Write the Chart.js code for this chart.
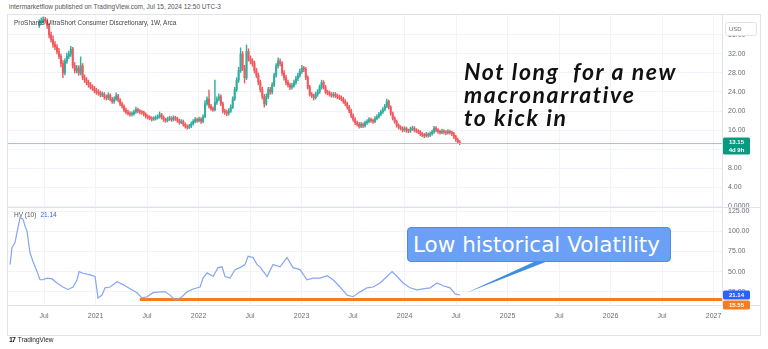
<!DOCTYPE html>
<html lang="en">
<head>
  <meta charset="UTF-8" />
  <title>SZK weekly with HV(10)</title>
  <script src="https://cdn.jsdelivr.net/npm/chart.js"></script>
  <style>
    body {
      margin: 0;
      width: 768px;
      height: 349px;
      overflow: hidden;
      position: relative;
      background: #fff;
      font-family: 'Liberation Sans', sans-serif;
    }
    #frame {
      position: absolute;
      left: 8px;
      top: 15px;
      width: 752px;
      height: 320px;
      outline: 1px solid #e0e3eb;
    }
    #frame canvas { position: absolute; left: 0; top: 0; }
    .txt { position: absolute; white-space: pre; }
    #published { left: 9px; top: 3px; font-size: 6.5px; color: #555; }
    #symbol { left: 14px; top: 19px; font-size: 6.5px; color: #444; }
    #hvTitle { left: 14px; top: 211px; font-size: 6.5px; color: #555; }
    #hvTitle span { color: #2962ff; margin-left: 4px; }
    #note {
      left: 464px; top: 60px;
      font: italic 700 23px/23px Lato, sans-serif;
      letter-spacing: 1.6px;
      color: #111;
    }
    #callout {
      left: 407px; top: 227px;
      width: 264px; height: 35px;
      box-sizing: border-box;
      background: #6aa0f6;
      border: 1px solid #4f8be6;
      border-radius: 4px;
      color: #fff;
      font: 21.5px/33px 'DejaVu Sans', sans-serif;
      padding-left: 5px;
    }
    #logo { left: 9px; top: 336px; font-size: 6.5px; color: #222; }
    #logo b { font-size: 7px; letter-spacing: -1px; margin-right: 3px; }
  </style>
</head>
<body>
  <div id="frame"><canvas id="chart" width="752" height="320"></canvas></div>
  <div class="txt" id="published">intermarketflow published on TradingView.com, Jul 15, 2024 12:50 UTC-3</div>
  <div class="txt" id="symbol">ProShares UltraShort Consumer Discretionary, 1W, Arca</div>
  <div class="txt" id="hvTitle">HV (10)<span>21.14</span></div>
  <div class="txt" id="note">Not long  for a new
macronarrative
to kick in</div>
  <div class="txt" id="callout">Low historical Volatility</div>
  <div class="txt" id="logo"><b>17</b>TradingView</div>

  <script>
    // weekly candles, first week starting 2020-06-15
    const firstWeek = '2020-06-15';
    const weekOpen = [
      38.0,38.5,39.0,39.3,39.0,38.0,36.0,35.0,34.0,33.5,
      32.5,31.5,30.0,28.0,30.5,31.5,32.0,33.0,29.5,28.5,
      29.0,28.0,29.5,27.0,26.5,26.0,25.5,25.0,24.8,24.3,
      24.0,23.8,23.4,23.5,23.0,22.8,23.3,22.5,22.0,22.5,
      23.2,22.3,21.5,21.0,20.2,19.8,19.5,19.3,19.4,19.8,
      20.3,20.0,19.8,19.7,19.3,18.9,18.7,18.5,18.3,18.4,
      18.6,18.8,19.2,18.7,18.2,18.0,18.3,18.5,18.2,18.6,
      18.4,18.0,17.6,17.8,17.2,16.8,16.6,16.8,17.3,17.8,
      18.2,18.0,18.3,17.8,18.8,21.5,22.5,21.0,20.5,20.3,
      21.8,22.5,23.0,21.5,20.0,19.8,19.5,20.0,20.8,22.5,
      24.5,26.5,28.5,32.0,29.0,27.0,32.5,31.0,30.5,30.0,
      28.5,27.5,26.0,24.5,23.0,21.5,23.0,24.5,24.0,25.5,
      27.5,29.5,30.5,30.0,28.0,27.0,26.0,25.5,25.0,25.3,
      26.0,26.8,27.5,28.3,29.0,28.8,27.0,25.0,23.5,23.2,
      22.8,23.5,24.0,25.0,26.0,25.0,24.0,23.8,23.5,23.3,
      23.5,23.2,23.0,22.8,22.5,22.0,21.5,20.8,20.0,19.0,
      18.2,17.5,17.2,16.8,17.2,16.9,17.5,17.8,18.2,18.0,
      17.8,18.4,18.8,19.3,19.8,20.3,21.0,22.0,20.8,19.5,
      18.5,17.8,17.0,16.6,16.4,16.0,16.3,15.9,15.8,16.2,
      16.4,16.0,15.8,15.6,15.2,15.0,14.8,15.1,14.9,15.2,
      15.6,16.4,16.0,15.7,15.5,15.8,15.6,15.4,15.7,15.5,
      15.2,14.6,14.0,13.5
    ];
    const weekHigh = [
      39.2,39.6,39.8,39.7,39.4,38.5,36.6,35.8,34.6,34.0,
      33.2,32.0,30.6,31.0,32.2,32.6,33.6,33.4,30.2,29.6,
      29.5,31.4,30.0,27.6,27.0,26.5,26.0,25.5,25.2,24.8,
      24.5,24.2,24.0,23.9,23.4,23.8,23.6,22.9,23.0,23.8,
      23.5,22.6,21.9,21.3,20.6,20.2,19.9,19.8,20.2,20.8,
      20.6,20.3,20.1,20.0,19.6,19.2,19.0,18.8,18.8,19.0,
      19.2,19.8,19.5,19.0,18.5,18.7,18.9,18.8,19.0,18.9,
      18.7,18.3,18.2,18.1,17.5,17.1,17.2,17.7,18.2,18.6,
      18.5,18.7,18.6,19.2,22.2,23.0,24.4,21.4,20.9,26.5,
      23.0,23.6,23.4,21.9,20.4,20.2,20.5,21.3,23.0,25.0,
      27.0,29.2,33.3,32.5,29.6,33.9,33.1,31.6,31.0,30.5,
      29.0,28.0,26.5,25.0,23.5,23.6,25.0,25.0,26.0,28.0,
      30.0,31.2,31.0,30.4,28.5,27.5,26.5,25.9,25.8,26.5,
      27.3,28.0,28.8,29.6,29.4,29.2,27.4,25.4,23.9,23.6,
      24.0,24.5,25.5,26.5,26.4,25.4,24.4,24.2,23.9,23.9,
      23.9,23.6,23.4,23.2,22.9,22.4,21.9,21.2,20.4,19.4,
      18.6,17.9,17.6,17.6,17.5,17.9,18.2,18.6,18.5,18.3,
      18.8,19.2,19.7,20.2,20.7,21.4,22.5,22.3,21.1,19.8,
      18.8,18.1,17.3,16.9,16.7,16.7,16.6,16.2,16.6,16.8,
      16.7,16.3,16.1,15.9,15.5,15.3,15.5,15.4,15.6,16.0,
      16.8,16.7,16.3,16.0,16.2,16.1,15.9,16.1,16.0,15.8,
      15.5,14.9,14.3,13.8
    ];
    const weekLow = [
      37.6,38.1,38.6,38.5,37.4,35.4,34.5,33.4,32.9,32.0,
      31.0,29.3,27.0,27.6,30.0,31.0,31.5,29.0,28.0,28.0,
      27.5,27.6,26.6,26.0,25.5,25.0,24.6,24.3,23.8,23.5,
      23.3,23.0,23.0,22.5,22.3,22.4,22.1,21.6,21.6,22.2,
      21.9,21.1,20.6,19.8,19.4,19.1,18.9,18.9,19.1,19.5,
      19.6,19.4,19.3,18.9,18.5,18.3,18.1,17.9,18.0,18.1,
      18.3,18.5,18.3,17.8,17.6,17.7,18.0,17.8,17.9,18.0,
      17.6,17.2,17.3,16.8,16.4,16.2,16.3,16.5,17.0,17.5,
      17.6,17.7,17.4,17.5,18.6,21.2,20.6,20.1,19.9,20.0,
      21.4,22.1,21.1,19.6,19.3,19.0,19.1,19.7,20.5,22.2,
      24.1,26.0,28.1,28.5,25.9,26.6,30.5,29.9,29.4,28.0,
      27.0,25.5,24.0,22.5,20.8,21.2,22.6,23.5,23.6,25.1,
      27.1,29.0,29.5,27.5,26.5,25.5,25.0,24.5,24.6,25.0,
      25.6,26.4,27.1,27.9,28.3,26.6,24.6,23.1,22.8,22.3,
      22.5,23.1,23.7,24.6,24.6,23.6,23.4,23.1,22.9,22.9,
      22.8,22.6,22.4,22.1,21.6,21.1,20.4,19.6,18.6,17.8,
      17.1,16.8,16.4,16.5,16.5,16.6,17.2,17.5,17.6,17.4,
      17.5,18.1,18.5,19.0,19.5,20.0,20.7,20.4,19.1,18.1,
      17.4,16.6,16.2,16.0,15.6,15.7,15.5,15.4,15.5,15.9,
      15.6,15.4,15.2,14.8,14.6,14.4,14.5,14.5,14.6,14.9,
      15.3,15.6,15.3,15.1,15.2,15.2,15.0,15.1,15.1,14.8,
      14.2,13.6,13.1,12.9
    ];
    const weekClose = [
      38.5,39.0,39.3,39.0,38.0,36.0,35.0,34.0,33.5,32.5,
      31.5,30.0,28.0,30.5,31.5,32.0,33.0,29.5,28.5,29.0,
      28.0,29.5,27.0,26.5,26.0,25.5,25.0,24.8,24.3,24.0,
      23.8,23.4,23.5,23.0,22.8,23.3,22.5,22.0,22.5,23.2,
      22.3,21.5,21.0,20.2,19.8,19.5,19.3,19.4,19.8,20.3,
      20.0,19.8,19.7,19.3,18.9,18.7,18.5,18.3,18.4,18.6,
      18.8,19.2,18.7,18.2,18.0,18.3,18.5,18.2,18.6,18.4,
      18.0,17.6,17.8,17.2,16.8,16.6,16.8,17.3,17.8,18.2,
      18.0,18.3,17.8,18.8,21.5,22.5,21.0,20.5,20.3,21.8,
      22.5,23.0,21.5,20.0,19.8,19.5,20.0,20.8,22.5,24.5,
      26.5,28.5,32.0,29.0,27.0,32.5,31.0,30.5,30.0,28.5,
      27.5,26.0,24.5,23.0,21.5,23.0,24.5,24.0,25.5,27.5,
      29.5,30.5,30.0,28.0,27.0,26.0,25.5,25.0,25.3,26.0,
      26.8,27.5,28.3,29.0,28.8,27.0,25.0,23.5,23.2,22.8,
      23.5,24.0,25.0,26.0,25.0,24.0,23.8,23.5,23.3,23.5,
      23.2,23.0,22.8,22.5,22.0,21.5,20.8,20.0,19.0,18.2,
      17.5,17.2,16.8,17.2,16.9,17.5,17.8,18.2,18.0,17.8,
      18.4,18.8,19.3,19.8,20.3,21.0,22.0,20.8,19.5,18.5,
      17.8,17.0,16.6,16.4,16.0,16.3,15.9,15.8,16.2,16.4,
      16.0,15.8,15.6,15.2,15.0,14.8,15.1,14.9,15.2,15.6,
      16.4,16.0,15.7,15.5,15.8,15.6,15.4,15.7,15.5,15.2,
      14.6,14.0,13.5,13.15
    ];

    // HV(10), time in decimal years
    const hvYears = [
      2020.170,2020.189,2020.218,2020.238,2020.267,2020.296,2020.316,2020.335,2020.364,2020.393,
      2020.432,2020.461,2020.490,2020.529,2020.578,2020.626,2020.684,2020.733,2020.782,2020.820,
      2020.840,2020.879,2020.947,2020.995,2021.024,2021.063,2021.092,2021.141,2021.209,2021.267,
      2021.335,2021.403,2021.451,2021.500,2021.558,2021.626,2021.675,2021.723,2021.762,2021.801,
      2021.840,2021.888,2021.947,2022.015,2022.044,2022.083,2022.141,2022.189,2022.228,2022.257,
      2022.306,2022.354,2022.403,2022.451,2022.481,2022.529,2022.568,2022.597,2022.665,2022.723,
      2022.791,2022.859,2022.917,2022.985,2023.053,2023.112,2023.180,2023.248,2023.306,2023.374,
      2023.442,2023.500,2023.568,2023.636,2023.694,2023.762,2023.830,2023.879,2023.927,2023.985,
      2024.053,2024.121,2024.180,2024.248,2024.316,2024.374,2024.442,2024.490,2024.539
    ];
    const hvValues = [
      58.7,80,86,99,117,115,106,100,73,62.5,
      50,40,40,42,41,36,31,28,31,40,
      50,48,46,44,17.5,21,30,31,37.5,34,
      28.8,23.8,17.5,19,24,25,25,21,16,16,
      19,25,28.5,31,42,48.5,44,55,56,44,
      42,52.5,55,58.7,69,67.5,58.7,56,44,59,
      56,67.5,55,52.5,40,42,42,45,40,31,
      21,19,25,30,31,36,44,50,44,36,
      30,27.5,28.8,30,36,32.5,30,22.5,21.14
    ];
    const hvLowLevel = 15.55;
    const hvLowStart = 2021.43;

    const xMin = 2020.15, xMax = 2027.082;
    const xTickValues = [2020.5, 2021, 2021.5, 2022, 2022.5, 2023, 2023.5, 2024, 2024.5, 2025, 2025.5, 2026, 2026.5, 2027];
    const xTickLabels = ['Jul', '2021', 'Jul', '2022', 'Jul', '2023', 'Jul', '2024', 'Jul', '2025', 'Jul', '2026', 'Jul', '2027'];
    const priceTicks = [0, 4, 8, 12, 16, 20, 24, 28, 32, 36];
    const hvTicks = [25, 50, 75, 100, 125];

    const upColor = '#34ad9f';
    const downColor = '#f05a5f';
    const axisText = '#6a6d78';
    const gridColor = '#f0f3fa';

    function decimalYear(ms) {
      const d = new Date(ms);
      const y = d.getUTCFullYear();
      const a = Date.UTC(y, 0, 1), b = Date.UTC(y + 1, 0, 1);
      return y + (ms - a) / (b - a);
    }

    const weekMs = 7 * 24 * 3600 * 1000;
    const candleX = weekClose.map((_, i) => decimalYear(Date.parse(firstWeek) + i * weekMs));
    const candleColors = weekClose.map((c, i) => c >= weekOpen[i] ? upColor : downColor);
    const lastClose = weekClose[weekClose.length - 1];
    const lastHv = hvValues[hvValues.length - 1];

    function tag(ctx, x, top, w, h, bg, lines) {
      ctx.fillStyle = bg;
      ctx.beginPath();
      ctx.roundRect(x, top, w, h, 1.5);
      ctx.fill();
      ctx.fillStyle = '#fff';
      ctx.font = '600 6px "Liberation Sans"';
      ctx.textAlign = 'center';
      ctx.textBaseline = 'middle';
      const step = h / lines.length;
      lines.forEach((t, i) => ctx.fillText(t, x + w / 2, top + step * (i + 0.5) + 0.5));
    }

    // no extra padding around scales, panes fill the frame
    function noPad(s) {
      s.paddingTop = 0; s.paddingBottom = 0; s.paddingLeft = 0; s.paddingRight = 0;
    }

    const paneDecor = {
      id: 'paneDecor',
      afterDraw(chart) {
        const { ctx, chartArea, scales } = chart;
        const yTop = scales.y, yBot = scales.y2;
        ctx.save();
        ctx.strokeStyle = '#e0e3eb';
        ctx.lineWidth = 1;
        ctx.beginPath();
        const sep = Math.round(yTop.bottom) + 0.5;
        ctx.moveTo(0, sep); ctx.lineTo(chart.width, sep);
        const rx = Math.round(chartArea.right) + 0.5;
        ctx.moveTo(rx, 0); ctx.lineTo(rx, chartArea.bottom);
        ctx.moveTo(0, Math.round(chartArea.bottom) + 0.5); ctx.lineTo(chart.width, Math.round(chartArea.bottom) + 0.5);
        ctx.stroke();

        // price tag
        const tx = chartArea.right + 1;
        const py = yTop.getPixelForValue(lastClose);
        tag(ctx, tx, py - 6, 27, 17, '#089981', [lastClose.toFixed(2), '4d 9h']);

        // HV tags
        const hy = yBot.getPixelForValue(lastHv);
        tag(ctx, tx, hy - 4.5, 27, 9, '#2962ff', [lastHv.toFixed(2)]);
        tag(ctx, tx, hy + 5.5, 27, 9, '#f57c1f', [hvLowLevel.toFixed(2)]);

        // currency box
        ctx.fillStyle = '#fff';
        ctx.strokeStyle = '#e0e3eb';
        ctx.beginPath();
        ctx.roundRect(tx + 2.5, 7.5, 31, 13, 2);
        ctx.fill(); ctx.stroke();
        ctx.fillStyle = axisText;
        ctx.font = '6px "Liberation Sans"';
        ctx.textAlign = 'left';
        ctx.textBaseline = 'middle';
        ctx.fillText('USD', tx + 6, 14.5);

        // callout tail to last HV point
        const pts = chart.getDatasetMeta(3).data;
        const tip = pts[pts.length - 1];
        ctx.fillStyle = '#3f8ee0';
        ctx.beginPath();
        ctx.moveTo(528, 246);
        ctx.lineTo(540, 246);
        ctx.lineTo(tip.x + 6, tip.y - 2);
        ctx.closePath();
        ctx.fill();
        ctx.restore();
      }
    };

    const tickFont = { family: 'Liberation Sans', size: 7 };

    new Chart(document.getElementById('chart'), {
      type: 'bar',
      data: {
        datasets: [
          {
            type: 'line',
            data: [{ x: xMin, y: lastClose }, { x: xMax, y: lastClose }],
            yAxisID: 'y',
            borderColor: '#8fd0c4',
            borderWidth: 1,
            pointRadius: 0
          },
          {
            type: 'bar',
            data: candleX.map((x, i) => ({ x, y: [weekLow[i], weekHigh[i]] })),
            yAxisID: 'y',
            backgroundColor: candleColors,
            barThickness: 0.8,
            grouped: false
          },
          {
            type: 'bar',
            data: candleX.map((x, i) => ({ x, y: [weekOpen[i], weekClose[i]] })),
            yAxisID: 'y',
            backgroundColor: candleColors,
            barThickness: 1.4,
            minBarLength: 1,
            grouped: false
          },
          {
            type: 'line',
            data: hvYears.map((x, i) => ({ x, y: hvValues[i] })),
            yAxisID: 'y2',
            borderColor: '#86a5f3',
            borderWidth: 1.2,
            pointRadius: 0,
            tension: 0
          },
          {
            type: 'line',
            data: [{ x: hvLowStart, y: hvLowLevel }, { x: xMax, y: hvLowLevel }],
            yAxisID: 'y2',
            borderColor: '#f57c1f',
            borderWidth: 3,
            pointRadius: 0
          }
        ]
      },
      options: {
        responsive: false,
        animation: false,
        layout: { padding: 0 },
        plugins: { legend: { display: false }, tooltip: { enabled: false } },
        scales: {
          x: {
            type: 'linear',
            offset: false,
            min: xMin,
            max: xMax,
            afterBuildTicks: s => { s.ticks = xTickValues.map(v => ({ value: v })); },
            afterFit: s => { s.height = 30; noPad(s); },
            ticks: {
              callback: (v, i) => xTickLabels[i],
              autoSkip: false,
              maxRotation: 0,
              padding: 7,
              color: axisText,
              font: tickFont
            },
            grid: { color: gridColor, drawTicks: false, offset: false },
            border: { display: false }
          },
          y: {
            type: 'linear',
            position: 'right',
            stack: 'panes',
            stackWeight: 192,
            weight: 0,
            min: -0.2,
            max: 40.2,
            afterBuildTicks: s => { s.ticks = priceTicks.map(v => ({ value: v })); },
            afterFit: s => { s.width = 38; noPad(s); },
            ticks: {
              callback: v => v === 0 ? '0.0000' : v.toFixed(2),
              autoSkip: false,
              padding: 6,
              color: axisText,
              font: tickFont
            },
            grid: { color: gridColor, drawTicks: false },
            border: { display: false }
          },
          y2: {
            type: 'linear',
            position: 'right',
            stack: 'panes',
            stackWeight: 98,
            weight: 1,
            min: 8.75,
            max: 130,
            afterBuildTicks: s => { s.ticks = hvTicks.map(v => ({ value: v })); },
            afterFit: s => { s.width = 38; noPad(s); },
            ticks: {
              callback: v => v.toFixed(2),
              autoSkip: false,
              padding: 6,
              color: axisText,
              font: tickFont
            },
            grid: { color: gridColor, drawTicks: false },
            border: { display: false }
          }
        }
      },
      plugins: [paneDecor]
    });
  </script>
</body>
</html>
